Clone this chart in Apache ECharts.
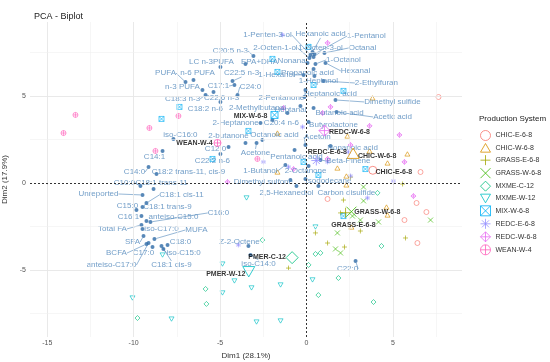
<!DOCTYPE html>
<html>
<head>
<meta charset="utf-8">
<script src="https://cdn.jsdelivr.net/npm/echarts@6/dist/echarts.min.js"></script>
<style>
  html, body { margin: 0; padding: 0; background: #fff; }
  #chart { width: 550px; height: 362px; }
</style>
</head>
<body>
<div id="chart"></div>
<script>
// groups in legend order
const GROUPS = ['CHIC-E-6-8', 'CHIC-W-6-8', 'GRASS-E-6-8', 'GRASS-W-6-8', 'MXME-C-12',
  'MXME-W-12', 'MIX-W-6-8', 'REDC-E-6-8', 'REDC-W-6-8', 'WEAN-W-4'];

// individuals (Dim1, Dim2) per group
const CHIC_E = [[7.64, 4.94], [6.60, 0.63], [6.37, -1.15], [6.94, -1.67], [5.67, -2.13], [6.42, -3.45], [1.22, -0.92]];
const CHIC_W = [[-1.68, 2.87], [2.37, 2.70], [3.65, 1.84], [5.84, 1.67], [4.69, 1.15], [1.79, 0.86], [2.31, 0.40],
  [-1.68, 0.63], [2.31, -0.11], [4.63, -1.38], [4.69, -1.84], [3.82, 4.89], [2.60, -2.53]];
const GRASS_E = [[2.55, 0.34], [5.56, -0.06], [2.14, -0.98], [1.97, -1.72], [3.12, -2.76], [0.52, -2.87],
  [5.73, -3.16], [1.22, -3.45], [2.20, -3.68], [-1.04, -4.89]];
const GRASS_W = [[3.30, -0.23], [3.30, -1.03], [3.12, -2.13], [4.17, -2.24], [7.18, -2.13], [1.79, -2.87],
  [1.68, -3.79], [1.97, -4.02], [2.66, -1.90]];
const MXME_C = [[-2.55, -3.28], [0.12, -4.71], [0.52, -4.08], [0.81, -4.02], [1.85, -5.46], [0.69, -6.44],
  [-5.84, -6.09], [-5.79, -6.95], [3.88, -6.84], [4.34, -3.62], [-9.78, -7.76], [4.11, -0.57]];
const MXME_W = [[0.52, -2.53], [-4.86, -4.66], [-4.17, -5.63], [-3.18, -6.03], [-4.86, -6.32], [-1.50, -5.86],
  [0.35, -5.57], [-2.89, -7.99], [-1.50, -7.93], [-10.07, -6.61], [-7.81, -7.82], [-3.47, -0.86], [-8.33, -4.14]];
const MIX_W = [[-7.35, 4.37], [-8.39, 3.68], [-1.97, 7.13], [-1.68, 6.38], [0.41, 5.63], [2.14, 5.29], [0.12, 7.82],
  [-3.36, 2.99], [-0.17, 1.21], [-5.44, 1.38], [3.41, 0.80], [0.69, 0.46], [2.14, -1.90]];
const REDC_E = [[-1.39, 8.51], [-0.23, 3.22], [-2.49, 1.21], [1.22, 1.21], [-1.04, 0.92], [2.55, 0.40],
  [-3.94, -3.56], [5.03, 0.11], [3.53, -0.86], [2.43, 1.78]];
const REDC_W = [[1.22, 8.05], [1.39, 4.37], [3.65, 3.28], [5.38, 2.76], [5.67, 1.21], [2.55, 2.18], [6.19, -0.75],
  [1.22, 1.38], [-0.75, 0.80], [-4.57, 0.06], [-1.33, 4.31], [0.93, 4.02]];
const WEAN_W = [[-13.37, 3.91], [-14.06, 2.87], [-9.09, 3.16], [-7.41, 3.85], [-8.74, 1.84], [-2.84, 1.38]];
const GROUP_POINTS = [CHIC_E, CHIC_W, GRASS_E, GRASS_W, MXME_C, MXME_W, MIX_W, REDC_E, REDC_W, WEAN_W];

// group centroids (labels as printed on the plot)
const CENTROID_LABELS = ['CHIC-E-6-8', 'CHIC-W-6-8', 'GRASS-E-6-8', 'GRASS-W-6-8', 'PMER-C-12',
  'PMER-W-12', 'MIX-W-6-8', 'REDC-E-6-8', 'REDC-W-6-8', 'WEAN-W-4'];
const CENTROID_X = [3.84, 2.70, 2.26, 2.60, -0.83, -3.34, -1.85, 0.57, 1.04, -5.15];
const CENTROID_Y = [0.73, 1.71, -1.71, -1.65, -4.29, -5.10, 3.91, 1.29, 3.01, 2.30];

// variables
const VAR_NAMES = ['Hexanoic acid', '1-Pentanol', '1-Penten-3-ol', '2-Octen-1-ol', '1-Octen-3-ol', 'Octanal',
  'Nonanal', '1-Octanol', 'Hexanal', 'Propanoic acid', '1-Hexanol', '1-Heptanol', '2-Ethylfuran', 'Heptanoic acid',
  '2-Pentanone', 'Dimethyl sulfide', 'Butanoic acid', 'Acetic acid', 'Heptanal', '2-Methylbutanal', 'Butyrolactone',
  'Acetoin', 'Nonanoic acid', 'Beta-Pinene', '2-Octanone', 'Isododecane', 'Carbon disulfide', '2,5-Hexanediol',
  'Dimethyl sulfone', 'Pentanoic acid', 'Acetone', '1-Butanol', 'Octanoic acid', '2-Heptanone', 'C20:4 n-6',
  '2-butanone', 'C20:5 n-3', 'LC n-3PUFA', 'EPA+DHA', 'C22:5 n-3', 'PUFA', 'n-6 PUFA', 'n-3 PUFA', 'C17:1', 'C24:0',
  'C18:3 n-3', 'C22:6 n-3', 'C18:2 n-6', 'iso-C16:0', 'C12:0', 'C22:2 n-6', 'C14:1', 'C14:0',
  'C18:2 trans-11, cis-9', 'C10:0', 'C18:1 trans-11', 'C18:1 cis-11', 'Unreported', 'C18:1 trans-9', 'C15:0',
  'C16:1', 'anteiso-C15:0', 'C16:0', 'Total FA', 'iso-C17:0', 'MUFA', 'SFA', 'C18:0', 'BCFA', 'C17:0', 'iso-C15:0',
  'anteiso-C17:0', 'C18:1 cis-9', 'Z-2-Octene', 'iso-C14:0', 'C22:0'];
const VAR_X = [0.35, 0.46, 0.23, 0.17, 0.41, 1.04, 0.06, 0.52, 1.10, 0.41, -0.17, 0.46, 0.98, -0.06, -0.12, 1.68,
  0.41, 1.74, -0.35, -1.10, 0.12, -0.06, 1.39, 0.81, 0.12, -0.06, 0.69, -0.58, -0.93, -0.69, -2.89, -1.22, -2.55,
  -2.66, -1.97, -3.53, -3.07, -4.98, -3.53, -4.28, -7.00, -6.54, -6.02, -4.17, -3.99, -5.84, -5.38, -4.98, -7.70,
  -4.51, -4.98, -8.33, -9.14, -8.68, -9.61, -8.85, -9.26, -9.49, -9.49, -9.84, -9.55, -9.26, -9.03, -9.55, -9.49,
  -8.80, -9.43, -8.04, -9.26, -8.91, -8.39, -9.14, -8.28, -3.36, -3.24, 2.84];
const VAR_Y = [7.53, 7.41, 7.36, 7.18, 7.24, 7.47, 6.90, 6.84, 6.90, 6.55, 6.21, 6.15, 5.86, 5.34, 4.94, 4.77,
  4.31, 4.08, 4.43, 4.02, 3.51, 2.18, 2.13, 1.32, 0.98, 0.23, -0.17, -0.17, 0.17, 1.90, 2.30, 1.03, 2.47, 3.45,
  3.62, 2.30, 7.30, 6.67, 6.84, 5.86, 5.80, 5.92, 5.34, 5.63, 5.06, 5.06, 5.23, 4.66, 2.53, 2.07, 1.67, 1.84, 0.92,
  0.52, -0.17, -0.34, -1.15, -0.69, -1.38, -1.55, -1.90, -2.18, -2.24, -2.41, -2.64, -3.22, -3.05, -3.56, -3.51,
  -3.68, -3.62, -3.45, -3.79, -3.62, -4.14, -4.48];

// ---- layout / style (not data) ----
const X_MIN = -16, X_MAX = 9.0, Y_MIN = -8.85, Y_MAX = 9.25;
const COLORS = ['#F8766D', '#D89000', '#A3A500', '#39B600', '#00BF7D', '#00BFC4', '#00B0F6', '#9590FF', '#E76BF3', '#FF62BC'];
const SYMBOLS = [
  'path://M5,0A5,5,0,1,1,5,10A5,5,0,1,1,5,0Z',
  'path://M5,0L10,8.66L0,8.66Z',
  'path://M5,0L5,10M0,5L10,5',
  'path://M0,0L10,10M10,0L0,10',
  'path://M5,0L10,5L5,10L0,5Z',
  'path://M0,0L10,0L5,8.66Z',
  'path://M0,0L10,0L10,10L0,10ZM0,0L10,10M10,0L0,10',
  'path://M5,0L5,10M0,5L10,5M1.5,1.5L8.5,8.5M8.5,1.5L1.5,8.5',
  'path://M5,0L10,5L5,10L0,5ZM5,0L5,10M0,5L10,5',
  'path://M5,0A5,5,0,1,1,5,10A5,5,0,1,1,5,0ZM5,0L5,10M0,5L10,5'
];
const CENTROID_SIZE = [8, 12, 10, 10, 12, 12, 7, 10, 11, 7];
const CENTROID_LABEL_OFFSET = [[21, 2], [24, 3], [8, 12], [26, 0], [-25, -1], [-23, 2], [-24, 1], [11, -8], [25, 1], [-23, 0]];
// label position relative to the variable's point, in px
const VAR_LABEL_OFFSET = [[8, -18], [52, -18], [-43, -20], [-34, -10], [7, -9], [38, -5], [-15, -2], [28, -4],
  [30, 8], [-6, 4], [-27, 0], [4, 5], [53, 2], [25, 4], [-23, 1], [57, 2], [26, 5], [56, 5], [-10, 4], [-30, -5],
  [25, 3], [12, -8], [22, 2], [28, 1], [-3, 5], [23, 2], [28, 7], [-10, 7], [-27, 2], [2, 7], [-1, 10], [-25, 6],
  [12, -5], [-25, 0], [9, 3], [-17, -7], [-23, -5], [-9, -5], [14, -2], [9, -8], [-20, -9], [4, -7], [-20, -3],
  [-16, 1], [13, -8], [-23, 4], [8, 6], [-15, 7], [7, -4], [-13, 2], [-8, 7], [-8, 6], [-14, 5], [32, -2],
  [-16, -3], [8, -6], [35, -8], [-44, -1], [25, 0], [-9, -4], [-13, 1], [27, -4], [68, -9], [-29, 4], [19, 0],
  [42, -9], [-11, 6], [13, -3], [-30, 9], [-9, 6], [22, 7], [-37, 22], [8, 16], [-9, -4], [8, 9], [-8, 8]];

const FONT = 'Liberation Sans, Arial, sans-serif';
const LABEL_BLUE = '#4F86BA';

const chart = echarts.init(document.getElementById('chart'), null, { renderer: 'canvas' });

// draw a leader line only when the label sits clearly away from its point
function needsLine(name, off) {
  const hw = name.length * 2.2, hh = 4.5;
  const ex = Math.max(Math.abs(off[0]) - hw, 0);
  const ey = Math.max(Math.abs(off[1]) - hh, 0);
  return Math.hypot(ex, ey) > 3;
}

const varData = VAR_NAMES.map((n, i) => ({
  name: n,
  value: [VAR_X[i], VAR_Y[i]],
  labelLine: { show: needsLine(n, VAR_LABEL_OFFSET[i]) }
}));

const gridMajorX = [-15, -10, -5, 5];
const gridMinorX = [-12.5, -7.5, -2.5, 2.5, 7.5];
const gridMajorY = [-5, 5];
const gridMinorY = [-7.5, -2.5, 2.5, 7.5];

const gridLines = []
  .concat(gridMajorX.map(v => ({ xAxis: v, lineStyle: { color: '#E6E6E6', width: 0.9 } })))
  .concat(gridMinorX.map(v => ({ xAxis: v, lineStyle: { color: '#F0F0F0', width: 0.6 } })))
  .concat(gridMajorY.map(v => ({ yAxis: v, lineStyle: { color: '#E6E6E6', width: 0.9 } })))
  .concat(gridMinorY.map(v => ({ yAxis: v, lineStyle: { color: '#F0F0F0', width: 0.6 } })));

const series = [
  {
    name: 'grid', type: 'scatter', data: [], silent: true, z: 0,
    markLine: {
      silent: true, symbol: 'none', animation: false, label: { show: false },
      lineStyle: { type: 'solid' },
      data: gridLines
    }
  },
  {
    name: 'zero', type: 'scatter', data: [], silent: true, z: 1,
    markLine: {
      silent: true, symbol: 'none', animation: false, label: { show: false },
      lineStyle: { color: '#333', type: [2, 2], width: 1 },
      data: [{ xAxis: 0 }, { yAxis: 0 }]
    }
  }
];

GROUPS.forEach((g, i) => {
  series.push({
    name: g, type: 'scatter', silent: true, z: 3,
    data: GROUP_POINTS[i],
    symbol: SYMBOLS[i], symbolSize: 5, symbolKeepAspect: true,
    itemStyle: { color: 'rgba(0,0,0,0)', borderColor: COLORS[i], borderWidth: 0.8 }
  });
});

series.push({
  name: 'variables', type: 'scatter', silent: true, z: 4,
  data: varData,
  symbol: 'circle', symbolSize: 4,
  itemStyle: { color: '#2E6AA6' },
  label: {
    show: true, position: 'inside', formatter: '{b}',
    color: LABEL_BLUE, fontSize: 8, fontFamily: FONT
  },
  labelLine: { show: true, lineStyle: { color: LABEL_BLUE, width: 0.6 } },
  labelLayout: p => ({ dx: VAR_LABEL_OFFSET[p.dataIndex][0], dy: VAR_LABEL_OFFSET[p.dataIndex][1] })
});

series.push({
  name: 'centroids', type: 'scatter', silent: true, z: 5,
  data: CENTROID_LABELS.map((l, i) => ({
    name: l,
    value: [CENTROID_X[i], CENTROID_Y[i]],
    symbol: SYMBOLS[i],
    symbolSize: CENTROID_SIZE[i],
    itemStyle: { color: 'rgba(0,0,0,0)', borderColor: COLORS[i], borderWidth: 1 }
  })),
  symbolKeepAspect: true,
  label: {
    show: true, position: 'inside', formatter: '{b}',
    color: '#000', fontSize: 7, fontWeight: 'bold', fontFamily: FONT
  },
  labelLayout: p => ({ dx: CENTROID_LABEL_OFFSET[p.dataIndex][0], dy: CENTROID_LABEL_OFFSET[p.dataIndex][1] })
});

chart.setOption({
  animation: false,
  backgroundColor: '#fff',
  textStyle: { fontFamily: FONT },
  title: [
    { text: 'PCA - Biplot', left: 29, top: 7, textStyle: { fontSize: 9, fontWeight: 'normal', color: '#222', fontFamily: FONT } },
    { text: 'Production System', left: 474, top: 110, textStyle: { fontSize: 8, fontWeight: 'normal', color: '#222', fontFamily: FONT } }
  ],
  legend: {
    data: GROUPS, orient: 'vertical', left: 475, top: 125,
    itemWidth: 10, itemHeight: 10, itemGap: 2,
    itemStyle: { borderWidth: 1 },
    textStyle: { fontSize: 7, color: '#333', fontFamily: FONT },
    selectedMode: false
  },
  grid: { left: 30, right: 88, top: 22, bottom: 25, containLabel: false, outerBoundsMode: 'none' },
  xAxis: {
    type: 'value', min: X_MIN, max: X_MAX,
    name: 'Dim1 (28.1%)', nameLocation: 'middle', nameGap: 12,
    nameTextStyle: { fontSize: 8, color: '#333', fontFamily: FONT },
    axisLine: { show: false },
    axisTick: { show: true, length: 2, lineStyle: { color: '#444' }, customValues: [-15, -10, -5, 0, 5] },
    axisLabel: { fontSize: 7, color: '#555', margin: 3, customValues: [-15, -10, -5, 0, 5] },
    splitLine: { show: false }
  },
  yAxis: {
    type: 'value', min: Y_MIN, max: Y_MAX,
    name: 'Dim2 (17.9%)', nameLocation: 'middle', nameGap: 14,
    nameTextStyle: { fontSize: 8, color: '#333', fontFamily: FONT },
    axisLine: { show: false },
    axisTick: { show: true, length: 2, lineStyle: { color: '#444' }, customValues: [-5, 0, 5] },
    axisLabel: { fontSize: 7, color: '#555', margin: 4, customValues: [-5, 0, 5] },
    splitLine: { show: false }
  },
  series: series
});
</script>
</body>
</html>
